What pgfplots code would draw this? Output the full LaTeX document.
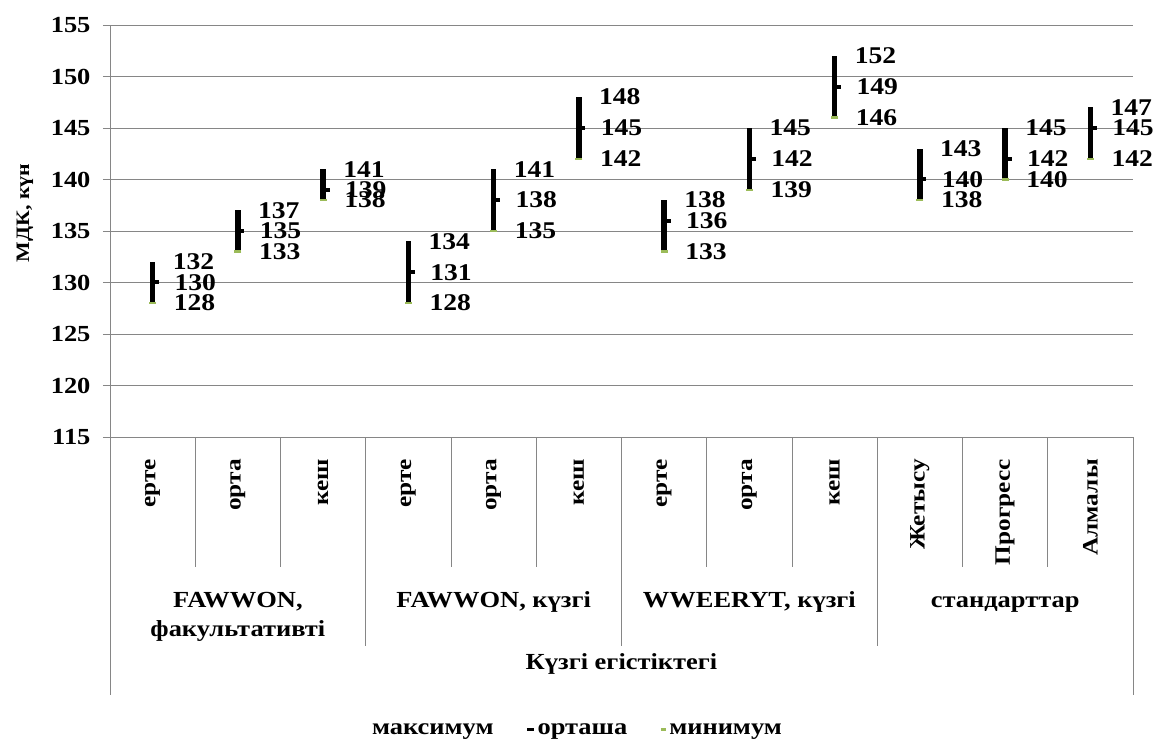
\documentclass[border=0pt]{standalone}
\usepackage{fontspec}
\setmainfont{Liberation Serif}[FakeStretch=1.15]
\usepackage{pgfplots}
\usepackage{pgfplotstable}
\pgfplotsset{compat=1.18}

\definecolor{gridgray}{RGB}{134,134,134}
\definecolor{mingreen}{RGB}{155,187,89}
\newcommand{\lbl}{\fontsize{23}{27}\selectfont\bfseries}
\newcommand{\xlbl}{\fontsize{22}{26}\selectfont\bfseries}
\newcommand{\vlbl}{\fontsize{24}{28}\selectfont\bfseries}

% short tick to the right of the bar for the mean
\pgfdeclareplotmark{rtick}{%
  \pgfpathmoveto{\pgfpoint{0pt}{0pt}}%
  \pgfpathlineto{\pgfpoint{6.5pt}{0pt}}%
  \pgfusepathqstroke}

\pgfplotstableread{
x  mean max min
0  130  132 128
1  135  137 133
2  139  141 138
3  131  134 128
4  138  141 135
5  145  148 142
6  136  138 133
7  142  145 139
8  149  152 146
9  140  143 138
10 142  145 140
11 145  147 142
}\data

\begin{document}
\begin{tikzpicture}
\begin{axis}[
  name=ax, at={(0,0)}, anchor=south west,
  scale only axis, width=1023pt, height=412pt,
  xmin=-0.5, xmax=11.5, ymin=115, ymax=155,
  ytick distance=5,
  ymajorgrids, grid style={gridgray, line width=0.8pt},
  axis lines*=left, axis line style={-, gridgray, line width=0.8pt},
  ytick style={gridgray, line width=0.8pt}, tick align=outside, major tick length=7pt,
  xtick={0,...,11}, xtick style={draw=none},
  xticklabels={ерте,орта,кеш,ерте,орта,кеш,ерте,орта,кеш,Жетысу,Прогресс,Алмалы},
  xticklabel style={rotate=90, anchor=east, font=\xlbl, inner sep=0pt},
  xticklabel shift=15pt,
  yticklabel style={font=\lbl},
  yticklabel shift=9pt,
  /pgf/number format/assume math mode=true,
  ylabel={МДК, күн},
  every axis y label/.style={at={(rel axis cs:0,0.544)}, xshift=-85pt, rotate=90,
    anchor=center, font=\fontsize{19}{23}\selectfont\bfseries},
  clip=false,
  legend style={at={(0.4565,-0.711)}, anchor=center, draw=none, fill=none,
    font=\fontsize{23}{27}\selectfont\bfseries, legend columns=3,
    /tikz/every even column/.append style={column sep=30pt}},
]
% high-low line
\addplot[draw=none, mark=none, forget plot,
  error bars/.cd, y dir=both, y explicit,
  error bar style={black, line width=5.5pt}, error mark=none]
  table[x=x, y=mean,
    y error plus expr=\thisrow{max}-\thisrow{mean},
    y error minus expr=\thisrow{mean}-\thisrow{min}] {\data};
% maximum labels
\addplot[draw=none, mark=none, point meta=explicit symbolic,
  nodes near coords,
  every node near coord/.append style={anchor=west, xshift=20pt, font=\vlbl, inner sep=0pt},
  legend image code/.code={}]
  table[x=x, y=max, meta=max] {\data};
\addlegendentry{максимум}
% mean
\addplot[only marks, mark=rtick, mark options={black, line width=4pt},
  point meta=explicit symbolic, nodes near coords,
  every node near coord/.append style={anchor=west, xshift=20pt, font=\vlbl, inner sep=0pt, black},
  legend image code/.code={\draw[black, line width=3pt] (0pt,0pt) -- (7pt,0pt);}]
  table[x=x, y=mean, meta=mean] {\data};
\addlegendentry{орташа}
% minimum
\addplot[only marks, mark=-, mark size=3.5pt, mark options={mingreen, line width=2.5pt},
  point meta=explicit symbolic, nodes near coords,
  every node near coord/.append style={anchor=west, xshift=20pt, font=\vlbl, inner sep=0pt, black},
  legend image code/.code={\draw[mingreen, line width=3pt] (-2pt,0pt) -- (3pt,0pt);}]
  table[x=x, y=min, meta=min] {\data};
\addlegendentry{минимум}

% category separators under the axis
\pgfplotsinvokeforeach{0.5,1.5,3.5,4.5,6.5,7.5,9.5,10.5}{
  \draw[gridgray, line width=0.8pt] (axis cs:#1,115) -- ([yshift=-130pt]axis cs:#1,115);}
\pgfplotsinvokeforeach{2.5,5.5,8.5}{
  \draw[gridgray, line width=0.8pt] (axis cs:#1,115) -- ([yshift=-209pt]axis cs:#1,115);}
\pgfplotsinvokeforeach{-0.5,11.5}{
  \draw[gridgray, line width=0.8pt] (axis cs:#1,115) -- ([yshift=-258pt]axis cs:#1,115);}

% group labels
\node[font=\lbl, anchor=base, yshift=-170pt] at (axis cs:1,115) {FAWWON,};
\node[font=\lbl, anchor=base, yshift=-199pt] at (axis cs:1,115) {факультативті};
\node[font=\lbl, anchor=base, yshift=-170pt] at (axis cs:4,115) {FAWWON, күзгі};
\node[font=\lbl, anchor=base, yshift=-170pt] at (axis cs:7,115) {WWEERYT, күзгі};
\node[font=\lbl, anchor=base, yshift=-170pt] at (axis cs:10,115) {стандарттар};
\node[font=\lbl, anchor=base, yshift=-232pt] at (axis cs:5.5,115) {Күзгі егістіктегі};
\end{axis}
\pgfresetboundingbox
\path[use as bounding box] ([shift={(-110pt,-309pt)}]ax.south west) rectangle ([shift={(1044pt,437pt)}]ax.south west);
\end{tikzpicture}
\end{document}
